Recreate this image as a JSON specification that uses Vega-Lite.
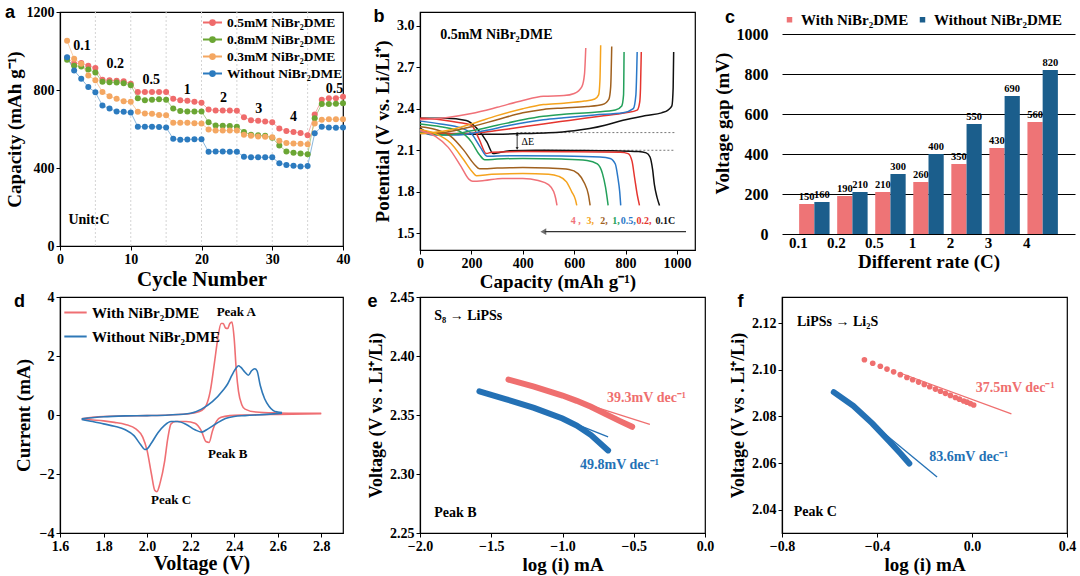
{
"$schema": "https://vega.github.io/schema/vega-lite/v6.json",
"padding": {"left": 4, "top": 3, "right": 0, "bottom": 0},
"config": {
 "font": "Liberation Serif",
 "view": {"stroke": "black", "strokeWidth": 1.2},
 "axis": {"labelFont": "Liberation Serif", "labelFontWeight": "bold", "labelFontSize": 14, "labelColor": "black", "titleFont": "Liberation Serif", "titleFontWeight": "bold", "titleFontSize": 19, "titleColor": "black", "domainColor": "black", "tickColor": "black", "grid": false, "tickSize": 4, "domainWidth": 1.2, "labelPadding": 2, "labelFlush": false},
 "legend": {"labelFont": "Liberation Serif", "labelFontWeight": "bold", "labelColor": "black", "labelFontSize": 14},
 "title": {"font": "Liberation Sans", "fontSize": 18, "fontWeight": "bold", "anchor": "start", "frame": "bounds", "color": "black", "baseline": "bottom"}
},
"datasets": {
 "aGrid": [{"c":5},{"c":10},{"c":15},{"c":20},{"c":25},{"c":30},{"c":35}],
 "aCap": [
  {"s":"p5","c":1,"y":965},{"s":"p5","c":2,"y":935},{"s":"p5","c":3,"y":938},{"s":"p5","c":4,"y":924},{"s":"p5","c":5,"y":913},{"s":"p5","c":6,"y":852},{"s":"p5","c":7,"y":850},{"s":"p5","c":8,"y":848},{"s":"p5","c":9,"y":845},{"s":"p5","c":10,"y":832},
  {"s":"p5","c":11,"y":790},{"s":"p5","c":12,"y":790},{"s":"p5","c":13,"y":790},{"s":"p5","c":14,"y":790},{"s":"p5","c":15,"y":790},{"s":"p5","c":16,"y":755},{"s":"p5","c":17,"y":748},{"s":"p5","c":18,"y":745},{"s":"p5","c":19,"y":740},{"s":"p5","c":20,"y":735},
  {"s":"p5","c":21,"y":700},{"s":"p5","c":22,"y":695},{"s":"p5","c":23,"y":695},{"s":"p5","c":24,"y":695},{"s":"p5","c":25,"y":693},{"s":"p5","c":26,"y":660},{"s":"p5","c":27,"y":645},{"s":"p5","c":28,"y":642},{"s":"p5","c":29,"y":638},{"s":"p5","c":30,"y":635},
  {"s":"p5","c":31,"y":602},{"s":"p5","c":32,"y":590},{"s":"p5","c":33,"y":585},{"s":"p5","c":34,"y":580},{"s":"p5","c":35,"y":568},{"s":"p5","c":36,"y":675},{"s":"p5","c":37,"y":750},{"s":"p5","c":38,"y":758},{"s":"p5","c":39,"y":758},{"s":"p5","c":40,"y":765},
  {"s":"p8","c":1,"y":955},{"s":"p8","c":2,"y":925},{"s":"p8","c":3,"y":920},{"s":"p8","c":4,"y":905},{"s":"p8","c":5,"y":890},{"s":"p8","c":6,"y":842},{"s":"p8","c":7,"y":840},{"s":"p8","c":8,"y":838},{"s":"p8","c":9,"y":835},{"s":"p8","c":10,"y":825},
  {"s":"p8","c":11,"y":758},{"s":"p8","c":12,"y":748},{"s":"p8","c":13,"y":750},{"s":"p8","c":14,"y":752},{"s":"p8","c":15,"y":750},{"s":"p8","c":16,"y":705},{"s":"p8","c":17,"y":692},{"s":"p8","c":18,"y":690},{"s":"p8","c":19,"y":690},{"s":"p8","c":20,"y":690},
  {"s":"p8","c":21,"y":635},{"s":"p8","c":22,"y":618},{"s":"p8","c":23,"y":617},{"s":"p8","c":24,"y":616},{"s":"p8","c":25,"y":612},{"s":"p8","c":26,"y":585},{"s":"p8","c":27,"y":570},{"s":"p8","c":28,"y":568},{"s":"p8","c":29,"y":565},{"s":"p8","c":30,"y":555},
  {"s":"p8","c":31,"y":515},{"s":"p8","c":32,"y":485},{"s":"p8","c":33,"y":478},{"s":"p8","c":34,"y":475},{"s":"p8","c":35,"y":470},{"s":"p8","c":36,"y":655},{"s":"p8","c":37,"y":728},{"s":"p8","c":38,"y":728},{"s":"p8","c":39,"y":730},{"s":"p8","c":40,"y":732},
  {"s":"p3","c":1,"y":1052},{"s":"p3","c":2,"y":960},{"s":"p3","c":3,"y":935},{"s":"p3","c":4,"y":875},{"s":"p3","c":5,"y":850},{"s":"p3","c":6,"y":790},{"s":"p3","c":7,"y":768},{"s":"p3","c":8,"y":755},{"s":"p3","c":9,"y":742},{"s":"p3","c":10,"y":740},
  {"s":"p3","c":11,"y":688},{"s":"p3","c":12,"y":680},{"s":"p3","c":13,"y":678},{"s":"p3","c":14,"y":672},{"s":"p3","c":15,"y":670},{"s":"p3","c":16,"y":632},{"s":"p3","c":17,"y":632},{"s":"p3","c":18,"y":632},{"s":"p3","c":19,"y":630},{"s":"p3","c":20,"y":628},
  {"s":"p3","c":21,"y":598},{"s":"p3","c":22,"y":592},{"s":"p3","c":23,"y":592},{"s":"p3","c":24,"y":592},{"s":"p3","c":25,"y":592},{"s":"p3","c":26,"y":570},{"s":"p3","c":27,"y":565},{"s":"p3","c":28,"y":562},{"s":"p3","c":29,"y":560},{"s":"p3","c":30,"y":558},
  {"s":"p3","c":31,"y":540},{"s":"p3","c":32,"y":528},{"s":"p3","c":33,"y":526},{"s":"p3","c":34,"y":525},{"s":"p3","c":35,"y":522},{"s":"p3","c":36,"y":628},{"s":"p3","c":37,"y":648},{"s":"p3","c":38,"y":650},{"s":"p3","c":39,"y":650},{"s":"p3","c":40,"y":650},
  {"s":"wo","c":1,"y":968},{"s":"wo","c":2,"y":900},{"s":"wo","c":3,"y":858},{"s":"wo","c":4,"y":815},{"s":"wo","c":5,"y":788},{"s":"wo","c":6,"y":720},{"s":"wo","c":7,"y":705},{"s":"wo","c":8,"y":690},{"s":"wo","c":9,"y":688},{"s":"wo","c":10,"y":685},
  {"s":"wo","c":11,"y":612},{"s":"wo","c":12,"y":612},{"s":"wo","c":13,"y":612},{"s":"wo","c":14,"y":610},{"s":"wo","c":15,"y":608},{"s":"wo","c":16,"y":550},{"s":"wo","c":17,"y":545},{"s":"wo","c":18,"y":546},{"s":"wo","c":19,"y":548},{"s":"wo","c":20,"y":548},
  {"s":"wo","c":21,"y":483},{"s":"wo","c":22,"y":485},{"s":"wo","c":23,"y":485},{"s":"wo","c":24,"y":483},{"s":"wo","c":25,"y":483},{"s":"wo","c":26,"y":458},{"s":"wo","c":27,"y":455},{"s":"wo","c":28,"y":455},{"s":"wo","c":29,"y":455},{"s":"wo","c":30,"y":455},
  {"s":"wo","c":31,"y":425},{"s":"wo","c":32,"y":415},{"s":"wo","c":33,"y":412},{"s":"wo","c":34,"y":408},{"s":"wo","c":35,"y":410},{"s":"wo","c":36,"y":578},{"s":"wo","c":37,"y":612},{"s":"wo","c":38,"y":608},{"s":"wo","c":39,"y":606},{"s":"wo","c":40,"y":608}
 ],
 "aText": [
  {"c":3.1,"y":1024,"t":"0.1"},{"c":7.8,"y":932,"t":"0.2"},{"c":12.9,"y":853,"t":"0.5"},{"c":18,"y":802,"t":"1"},{"c":23.1,"y":761,"t":"2"},{"c":28.1,"y":704,"t":"3"},{"c":33,"y":662,"t":"4"},{"c":38.8,"y":805,"t":"0.5"},{"c":4.1,"y":133,"t":"Unit:C"}
 ],
 "bCurves": [
  {"k":"0.1d","r":"0.1","q":0,"v":2.33},{"k":"0.1d","r":"0.1","q":100,"v":2.33},{"k":"0.1d","r":"0.1","q":180,"v":2.315},{"k":"0.1d","r":"0.1","q":220,"v":2.26},{"k":"0.1d","r":"0.1","q":260,"v":2.16},{"k":"0.1d","r":"0.1","q":285,"v":2.075},{"k":"0.1d","r":"0.1","q":300,"v":2.08},{"k":"0.1d","r":"0.1","q":350,"v":2.095},{"k":"0.1d","r":"0.1","q":450,"v":2.1},{"k":"0.1d","r":"0.1","q":600,"v":2.098},{"k":"0.1d","r":"0.1","q":750,"v":2.095},{"k":"0.1d","r":"0.1","q":850,"v":2.09},{"k":"0.1d","r":"0.1","q":880,"v":2.08},{"k":"0.1d","r":"0.1","q":895,"v":2.05},{"k":"0.1d","r":"0.1","q":905,"v":1.96},{"k":"0.1d","r":"0.1","q":912,"v":1.85},{"k":"0.1d","r":"0.1","q":922,"v":1.76},{"k":"0.1d","r":"0.1","q":932,"v":1.7},
  {"k":"0.1c","r":"0.1","q":0,"v":2.26},{"k":"0.1c","r":"0.1","q":30,"v":2.23},{"k":"0.1c","r":"0.1","q":100,"v":2.22},{"k":"0.1c","r":"0.1","q":200,"v":2.215},{"k":"0.1c","r":"0.1","q":300,"v":2.215},{"k":"0.1c","r":"0.1","q":400,"v":2.22},{"k":"0.1c","r":"0.1","q":500,"v":2.225},{"k":"0.1c","r":"0.1","q":600,"v":2.24},{"k":"0.1c","r":"0.1","q":660,"v":2.256},{"k":"0.1c","r":"0.1","q":720,"v":2.28},{"k":"0.1c","r":"0.1","q":790,"v":2.316},{"k":"0.1c","r":"0.1","q":880,"v":2.35},{"k":"0.1c","r":"0.1","q":940,"v":2.37},{"k":"0.1c","r":"0.1","q":965,"v":2.39},{"k":"0.1c","r":"0.1","q":980,"v":2.42},{"k":"0.1c","r":"0.1","q":985,"v":2.55},{"k":"0.1c","r":"0.1","q":987,"v":2.81},
  {"k":"0.2d","r":"0.2","q":0,"v":2.33},{"k":"0.2d","r":"0.2","q":80,"v":2.32},{"k":"0.2d","r":"0.2","q":150,"v":2.3},{"k":"0.2d","r":"0.2","q":200,"v":2.28},{"k":"0.2d","r":"0.2","q":230,"v":2.18},{"k":"0.2d","r":"0.2","q":258,"v":2.075},{"k":"0.2d","r":"0.2","q":280,"v":2.085},{"k":"0.2d","r":"0.2","q":400,"v":2.09},{"k":"0.2d","r":"0.2","q":600,"v":2.088},{"k":"0.2d","r":"0.2","q":780,"v":2.085},{"k":"0.2d","r":"0.2","q":810,"v":2.075},{"k":"0.2d","r":"0.2","q":825,"v":2.02},{"k":"0.2d","r":"0.2","q":835,"v":1.9},{"k":"0.2d","r":"0.2","q":845,"v":1.78},{"k":"0.2d","r":"0.2","q":854,"v":1.7},
  {"k":"0.2c","r":"0.2","q":0,"v":2.25},{"k":"0.2c","r":"0.2","q":50,"v":2.22},{"k":"0.2c","r":"0.2","q":150,"v":2.22},{"k":"0.2c","r":"0.2","q":250,"v":2.23},{"k":"0.2c","r":"0.2","q":350,"v":2.255},{"k":"0.2c","r":"0.2","q":480,"v":2.29},{"k":"0.2c","r":"0.2","q":580,"v":2.315},{"k":"0.2c","r":"0.2","q":700,"v":2.345},{"k":"0.2c","r":"0.2","q":800,"v":2.37},{"k":"0.2c","r":"0.2","q":845,"v":2.39},{"k":"0.2c","r":"0.2","q":855,"v":2.45},{"k":"0.2c","r":"0.2","q":858,"v":2.55},{"k":"0.2c","r":"0.2","q":861,"v":2.81},
  {"k":"0.5d","r":"0.5","q":0,"v":2.31},{"k":"0.5d","r":"0.5","q":80,"v":2.29},{"k":"0.5d","r":"0.5","q":160,"v":2.26},{"k":"0.5d","r":"0.5","q":200,"v":2.22},{"k":"0.5d","r":"0.5","q":235,"v":2.12},{"k":"0.5d","r":"0.5","q":262,"v":2.055},{"k":"0.5d","r":"0.5","q":300,"v":2.058},{"k":"0.5d","r":"0.5","q":400,"v":2.06},{"k":"0.5d","r":"0.5","q":550,"v":2.058},{"k":"0.5d","r":"0.5","q":700,"v":2.05},{"k":"0.5d","r":"0.5","q":740,"v":2.04},{"k":"0.5d","r":"0.5","q":760,"v":2.0},{"k":"0.5d","r":"0.5","q":770,"v":1.9},{"k":"0.5d","r":"0.5","q":777,"v":1.8},{"k":"0.5d","r":"0.5","q":781,"v":1.7},
  {"k":"0.5c","r":"0.5","q":0,"v":2.24},{"k":"0.5c","r":"0.5","q":50,"v":2.21},{"k":"0.5c","r":"0.5","q":150,"v":2.21},{"k":"0.5c","r":"0.5","q":250,"v":2.24},{"k":"0.5c","r":"0.5","q":350,"v":2.28},{"k":"0.5c","r":"0.5","q":480,"v":2.32},{"k":"0.5c","r":"0.5","q":560,"v":2.335},{"k":"0.5c","r":"0.5","q":680,"v":2.355},{"k":"0.5c","r":"0.5","q":790,"v":2.37},{"k":"0.5c","r":"0.5","q":830,"v":2.4},{"k":"0.5c","r":"0.5","q":840,"v":2.5},{"k":"0.5c","r":"0.5","q":845,"v":2.81},
  {"k":"1d","r":"1","q":0,"v":2.29},{"k":"1d","r":"1","q":80,"v":2.27},{"k":"1d","r":"1","q":150,"v":2.24},{"k":"1d","r":"1","q":200,"v":2.16},{"k":"1d","r":"1","q":230,"v":2.07},{"k":"1d","r":"1","q":252,"v":2.03},{"k":"1d","r":"1","q":300,"v":2.035},{"k":"1d","r":"1","q":400,"v":2.04},{"k":"1d","r":"1","q":550,"v":2.035},{"k":"1d","r":"1","q":650,"v":2.025},{"k":"1d","r":"1","q":690,"v":2.0},{"k":"1d","r":"1","q":710,"v":1.93},{"k":"1d","r":"1","q":722,"v":1.83},{"k":"1d","r":"1","q":732,"v":1.7},
  {"k":"1c","r":"1","q":0,"v":2.23},{"k":"1c","r":"1","q":100,"v":2.21},{"k":"1c","r":"1","q":200,"v":2.24},{"k":"1c","r":"1","q":300,"v":2.28},{"k":"1c","r":"1","q":400,"v":2.32},{"k":"1c","r":"1","q":480,"v":2.345},{"k":"1c","r":"1","q":560,"v":2.36},{"k":"1c","r":"1","q":680,"v":2.375},{"k":"1c","r":"1","q":760,"v":2.39},{"k":"1c","r":"1","q":785,"v":2.42},{"k":"1c","r":"1","q":792,"v":2.5},{"k":"1c","r":"1","q":794,"v":2.81},
  {"k":"2d","r":"2","q":0,"v":2.27},{"k":"2d","r":"2","q":60,"v":2.25},{"k":"2d","r":"2","q":120,"v":2.2},{"k":"2d","r":"2","q":170,"v":2.1},{"k":"2d","r":"2","q":210,"v":2.0},{"k":"2d","r":"2","q":232,"v":1.965},{"k":"2d","r":"2","q":300,"v":1.97},{"k":"2d","r":"2","q":400,"v":1.975},{"k":"2d","r":"2","q":500,"v":1.97},{"k":"2d","r":"2","q":580,"v":1.96},{"k":"2d","r":"2","q":615,"v":1.93},{"k":"2d","r":"2","q":640,"v":1.86},{"k":"2d","r":"2","q":655,"v":1.78},{"k":"2d","r":"2","q":662,"v":1.7},
  {"k":"2c","r":"2","q":0,"v":2.22},{"k":"2c","r":"2","q":100,"v":2.23},{"k":"2c","r":"2","q":200,"v":2.27},{"k":"2c","r":"2","q":300,"v":2.32},{"k":"2c","r":"2","q":400,"v":2.37},{"k":"2c","r":"2","q":480,"v":2.395},{"k":"2c","r":"2","q":560,"v":2.405},{"k":"2c","r":"2","q":650,"v":2.415},{"k":"2c","r":"2","q":710,"v":2.43},{"k":"2c","r":"2","q":735,"v":2.47},{"k":"2c","r":"2","q":742,"v":2.56},{"k":"2c","r":"2","q":746,"v":2.85},
  {"k":"3d","r":"3","q":0,"v":2.25},{"k":"3d","r":"3","q":60,"v":2.22},{"k":"3d","r":"3","q":120,"v":2.15},{"k":"3d","r":"3","q":170,"v":2.03},{"k":"3d","r":"3","q":205,"v":1.94},{"k":"3d","r":"3","q":220,"v":1.915},{"k":"3d","r":"3","q":280,"v":1.925},{"k":"3d","r":"3","q":400,"v":1.93},{"k":"3d","r":"3","q":500,"v":1.925},{"k":"3d","r":"3","q":540,"v":1.91},{"k":"3d","r":"3","q":570,"v":1.87},{"k":"3d","r":"3","q":590,"v":1.8},{"k":"3d","r":"3","q":605,"v":1.74},{"k":"3d","r":"3","q":610,"v":1.7},
  {"k":"3c","r":"3","q":0,"v":2.22},{"k":"3c","r":"3","q":100,"v":2.24},{"k":"3c","r":"3","q":200,"v":2.29},{"k":"3c","r":"3","q":300,"v":2.35},{"k":"3c","r":"3","q":400,"v":2.4},{"k":"3c","r":"3","q":480,"v":2.43},{"k":"3c","r":"3","q":560,"v":2.44},{"k":"3c","r":"3","q":640,"v":2.455},{"k":"3c","r":"3","q":680,"v":2.47},{"k":"3c","r":"3","q":695,"v":2.5},{"k":"3c","r":"3","q":700,"v":2.6},{"k":"3c","r":"3","q":703,"v":2.86},
  {"k":"4d","r":"4","q":0,"v":2.24},{"k":"4d","r":"4","q":60,"v":2.2},{"k":"4d","r":"4","q":110,"v":2.12},{"k":"4d","r":"4","q":160,"v":1.98},{"k":"4d","r":"4","q":190,"v":1.89},{"k":"4d","r":"4","q":205,"v":1.875},{"k":"4d","r":"4","q":250,"v":1.88},{"k":"4d","r":"4","q":320,"v":1.895},{"k":"4d","r":"4","q":400,"v":1.895},{"k":"4d","r":"4","q":460,"v":1.88},{"k":"4d","r":"4","q":500,"v":1.85},{"k":"4d","r":"4","q":520,"v":1.8},{"k":"4d","r":"4","q":528,"v":1.75},{"k":"4d","r":"4","q":533,"v":1.7},
  {"k":"4c","r":"4","q":0,"v":2.32},{"k":"4c","r":"4","q":100,"v":2.335},{"k":"4c","r":"4","q":200,"v":2.365},{"k":"4c","r":"4","q":300,"v":2.41},{"k":"4c","r":"4","q":400,"v":2.46},{"k":"4c","r":"4","q":480,"v":2.49},{"k":"4c","r":"4","q":560,"v":2.495},{"k":"4c","r":"4","q":600,"v":2.51},{"k":"4c","r":"4","q":630,"v":2.56},{"k":"4c","r":"4","q":640,"v":2.65},{"k":"4c","r":"4","q":645,"v":2.84}
 ],
 "bDot": [{"q":375,"q2":990,"v":2.227},{"q":480,"q2":990,"v":2.099}],
 "bDE": [{"q":378,"v":2.107,"v2":2.22}],
 "bTri": [{"q":378,"v":2.214,"sh":"u"},{"q":378,"v":2.113,"sh":"d"}],
 "bDEt": [{"q":395,"v":2.16,"t":"ΔE"}],
 "bTitle": [{"q":297,"v":2.93,"t":"0.5mM NiBr₂DME"}],
 "bRate": [{"q":606,"v":1.585,"t":"4 ,","r":"4"},{"q":662,"v":1.585,"t":"3,","r":"3"},{"q":716,"v":1.585,"t":"2,","r":"2"},{"q":763,"v":1.585,"t":"1,","r":"1"},{"q":810,"v":1.585,"t":"0.5,","r":"0.5"},{"q":872,"v":1.585,"t":"0.2,","r":"0.2"},{"q":955,"v":1.585,"t":"0.1C","r":"0.1"}],
 "bArrow": [{"q":485,"q2":1035,"v":1.51}],
 "bHead": [{"q":480,"v":1.51}],
 "cBars": [
  {"rate":"0.1","g":"w","v":150},{"rate":"0.1","g":"wo","v":160},
  {"rate":"0.2","g":"w","v":190},{"rate":"0.2","g":"wo","v":210},
  {"rate":"0.5","g":"w","v":210},{"rate":"0.5","g":"wo","v":300},
  {"rate":"1","g":"w","v":260},{"rate":"1","g":"wo","v":400},
  {"rate":"2","g":"w","v":350},{"rate":"2","g":"wo","v":550},
  {"rate":"3","g":"w","v":430},{"rate":"3","g":"wo","v":690},
  {"rate":"4","g":"w","v":560},{"rate":"4","g":"wo","v":820}
 ],
 "dCV": [
  {"s":"w","k":"wa","x":1.7,"y":-0.13},{"s":"w","k":"wa","x":1.75,"y":-0.08},{"s":"w","k":"wa","x":1.8,"y":-0.05},{"s":"w","k":"wa","x":1.9,"y":-0.03},{"s":"w","k":"wa","x":2.0,"y":-0.02},{"s":"w","k":"wa","x":2.1,"y":0.0},{"s":"w","k":"wa","x":2.2,"y":0.05},{"s":"w","k":"wa","x":2.25,"y":0.15},{"s":"w","k":"wa","x":2.27,"y":0.3},{"s":"w","k":"wa","x":2.29,"y":0.8},{"s":"w","k":"wa","x":2.31,"y":1.8},{"s":"w","k":"wa","x":2.325,"y":2.6},{"s":"w","k":"wa","x":2.34,"y":3.1},{"s":"w","k":"wa","x":2.35,"y":3.1},{"s":"w","k":"wa","x":2.36,"y":2.95},{"s":"w","k":"wa","x":2.37,"y":2.93},{"s":"w","k":"wa","x":2.38,"y":3.1},{"s":"w","k":"wa","x":2.39,"y":3.15},{"s":"w","k":"wa","x":2.4,"y":2.6},{"s":"w","k":"wa","x":2.41,"y":1.5},{"s":"w","k":"wa","x":2.42,"y":0.8},{"s":"w","k":"wa","x":2.435,"y":0.35},{"s":"w","k":"wa","x":2.45,"y":0.2},{"s":"w","k":"wa","x":2.5,"y":0.1},{"s":"w","k":"wa","x":2.6,"y":0.07},{"s":"w","k":"wa","x":2.7,"y":0.06},{"s":"w","k":"wa","x":2.8,"y":0.06},
  {"s":"w","k":"wc","x":2.8,"y":0.04},{"s":"w","k":"wc","x":2.6,"y":0.02},{"s":"w","k":"wc","x":2.45,"y":0.0},{"s":"w","k":"wc","x":2.38,"y":-0.02},{"s":"w","k":"wc","x":2.34,"y":-0.08},{"s":"w","k":"wc","x":2.32,"y":-0.2},{"s":"w","k":"wc","x":2.3,"y":-0.55},{"s":"w","k":"wc","x":2.285,"y":-0.93},{"s":"w","k":"wc","x":2.27,"y":-0.9},{"s":"w","k":"wc","x":2.25,"y":-0.55},{"s":"w","k":"wc","x":2.22,"y":-0.28},{"s":"w","k":"wc","x":2.18,"y":-0.22},{"s":"w","k":"wc","x":2.13,"y":-0.22},{"s":"w","k":"wc","x":2.11,"y":-0.3},{"s":"w","k":"wc","x":2.095,"y":-0.8},{"s":"w","k":"wc","x":2.08,"y":-1.6},{"s":"w","k":"wc","x":2.06,"y":-2.3},{"s":"w","k":"wc","x":2.045,"y":-2.6},{"s":"w","k":"wc","x":2.035,"y":-2.55},{"s":"w","k":"wc","x":2.02,"y":-2.0},{"s":"w","k":"wc","x":2.0,"y":-1.2},{"s":"w","k":"wc","x":1.98,"y":-0.75},{"s":"w","k":"wc","x":1.95,"y":-0.48},{"s":"w","k":"wc","x":1.9,"y":-0.32},{"s":"w","k":"wc","x":1.85,"y":-0.25},{"s":"w","k":"wc","x":1.8,"y":-0.2},{"s":"w","k":"wc","x":1.75,"y":-0.17},{"s":"w","k":"wc","x":1.7,"y":-0.14},
  {"s":"wo","k":"oa","x":1.7,"y":-0.13},{"s":"wo","k":"oa","x":1.8,"y":-0.06},{"s":"wo","k":"oa","x":1.9,"y":-0.03},{"s":"wo","k":"oa","x":2.0,"y":-0.02},{"s":"wo","k":"oa","x":2.1,"y":0.0},{"s":"wo","k":"oa","x":2.2,"y":0.06},{"s":"wo","k":"oa","x":2.25,"y":0.2},{"s":"wo","k":"oa","x":2.3,"y":0.45},{"s":"wo","k":"oa","x":2.35,"y":0.85},{"s":"wo","k":"oa","x":2.37,"y":1.05},{"s":"wo","k":"oa","x":2.39,"y":1.35},{"s":"wo","k":"oa","x":2.41,"y":1.6},{"s":"wo","k":"oa","x":2.42,"y":1.67},{"s":"wo","k":"oa","x":2.43,"y":1.62},{"s":"wo","k":"oa","x":2.45,"y":1.45},{"s":"wo","k":"oa","x":2.465,"y":1.35},{"s":"wo","k":"oa","x":2.48,"y":1.5},{"s":"wo","k":"oa","x":2.495,"y":1.57},{"s":"wo","k":"oa","x":2.505,"y":1.5},{"s":"wo","k":"oa","x":2.52,"y":1.0},{"s":"wo","k":"oa","x":2.54,"y":0.55},{"s":"wo","k":"oa","x":2.56,"y":0.3},{"s":"wo","k":"oa","x":2.58,"y":0.15},{"s":"wo","k":"oa","x":2.6,"y":0.1},{"s":"wo","k":"oa","x":2.62,"y":0.08},
  {"s":"wo","k":"oc","x":2.62,"y":0.06},{"s":"wo","k":"oc","x":2.55,"y":0.02},{"s":"wo","k":"oc","x":2.45,"y":-0.02},{"s":"wo","k":"oc","x":2.4,"y":-0.05},{"s":"wo","k":"oc","x":2.36,"y":-0.12},{"s":"wo","k":"oc","x":2.32,"y":-0.28},{"s":"wo","k":"oc","x":2.28,"y":-0.47},{"s":"wo","k":"oc","x":2.25,"y":-0.58},{"s":"wo","k":"oc","x":2.22,"y":-0.5},{"s":"wo","k":"oc","x":2.18,"y":-0.32},{"s":"wo","k":"oc","x":2.14,"y":-0.22},{"s":"wo","k":"oc","x":2.11,"y":-0.22},{"s":"wo","k":"oc","x":2.08,"y":-0.35},{"s":"wo","k":"oc","x":2.05,"y":-0.6},{"s":"wo","k":"oc","x":2.02,"y":-0.95},{"s":"wo","k":"oc","x":2.0,"y":-1.15},{"s":"wo","k":"oc","x":1.99,"y":-1.17},{"s":"wo","k":"oc","x":1.97,"y":-1.0},{"s":"wo","k":"oc","x":1.94,"y":-0.7},{"s":"wo","k":"oc","x":1.9,"y":-0.5},{"s":"wo","k":"oc","x":1.85,"y":-0.38},{"s":"wo","k":"oc","x":1.8,"y":-0.3},{"s":"wo","k":"oc","x":1.75,"y":-0.22},{"s":"wo","k":"oc","x":1.7,"y":-0.15}
 ],
 "dText": [{"x":2.41,"y":3.48,"t":"Peak A"},{"x":2.37,"y":-1.31,"t":"Peak B"},{"x":2.11,"y":-2.89,"t":"Peak C"}],
 "eD": [
  {"s":"w","x":-1.379,"y":2.38},{"s":"w","x":-1.2,"y":2.374},{"s":"w","x":-1.0,"y":2.3665},{"s":"w","x":-0.9,"y":2.362},{"s":"w","x":-0.8,"y":2.357},{"s":"w","x":-0.7,"y":2.351},{"s":"w","x":-0.6,"y":2.345},{"s":"w","x":-0.511,"y":2.34},
  {"s":"wo","x":-1.583,"y":2.37},{"s":"wo","x":-1.4,"y":2.3635},{"s":"wo","x":-1.2,"y":2.356},{"s":"wo","x":-1.0,"y":2.347},{"s":"wo","x":-0.9,"y":2.341},{"s":"wo","x":-0.8,"y":2.333},{"s":"wo","x":-0.68,"y":2.32}
 ],
 "eF": [{"s":"w","x":-1.0,"y":2.3655},{"s":"w","x":-0.387,"y":2.342},{"s":"wo","x":-1.2,"y":2.3565},{"s":"wo","x":-0.68,"y":2.3315}],
 "eT": [{"s":"w","x":-0.41,"y":2.3646,"t":"39.3mV dec⁻¹"},{"s":"wo","x":-0.6,"y":2.308,"t":"49.8mV dec⁻¹"}],
 "eB": [{"x":-1.9,"y":2.434,"t":"S₈ → LiPSs"},{"x":-1.9,"y":2.267,"t":"Peak B"}],
 "fR": [
  {"s":"w","x":-0.453,"y":2.1043},{"s":"w","x":-0.418,"y":2.1028},{"s":"w","x":-0.386,"y":2.1015},{"s":"w","x":-0.358,"y":2.1003},{"s":"w","x":-0.33,"y":2.0991},{"s":"w","x":-0.302,"y":2.0979},{"s":"w","x":-0.274,"y":2.0967},{"s":"w","x":-0.25,"y":2.0957},{"s":"w","x":-0.225,"y":2.0947},{"s":"w","x":-0.201,"y":2.0937},{"s":"w","x":-0.178,"y":2.0927},{"s":"w","x":-0.154,"y":2.0917},{"s":"w","x":-0.133,"y":2.0908},{"s":"w","x":-0.112,"y":2.0899},{"s":"w","x":-0.091,"y":2.089},{"s":"w","x":-0.07,"y":2.0881},{"s":"w","x":-0.053,"y":2.0874},{"s":"w","x":-0.035,"y":2.0866},{"s":"w","x":-0.021,"y":2.0861},{"s":"w","x":-0.007,"y":2.0855},{"s":"w","x":0.007,"y":2.0849}
 ],
 "fB": [{"s":"wo","x":-0.582,"y":2.0904},{"s":"wo","x":-0.5,"y":2.0845},{"s":"wo","x":-0.42,"y":2.077},{"s":"wo","x":-0.35,"y":2.0695},{"s":"wo","x":-0.3,"y":2.064},{"s":"wo","x":-0.264,"y":2.0598}],
 "fF": [{"s":"w","x":-0.3,"y":2.0985},{"s":"w","x":0.166,"y":2.0811},{"s":"wo","x":-0.42,"y":2.077},{"s":"wo","x":-0.147,"y":2.054}],
 "fT": [{"s":"w","x":0.182,"y":2.0921,"t":"37.5mV dec⁻¹"},{"s":"wo","x":-0.014,"y":2.0626,"t":"83.6mV dec⁻¹"}],
 "fK": [{"x":-0.737,"y":2.1203,"t":"LiPSs → Li₂S"},{"x":-0.751,"y":2.0391,"t":"Peak C"}]
},
"columns": 3,
"spacing": {"row": 47, "column": 77},
"bounds": "flush",
"resolve": {"scale": {"color": "independent"}, "legend": {"color": "independent"}},
"concat": [
 {"title": {"text": "a", "offset": -15, "dy": 2},
  "width": 283, "height": 234,
  "layer": [
   {"data": {"name": "aGrid"}, "mark": {"type": "rule", "color": "#d4d4d4", "strokeDash": [2, 2], "strokeWidth": 1},
    "encoding": {"x": {"field": "c", "type": "quantitative", "scale": {"domain": [0, 40]}, "axis": {"title": "Cycle Number", "values": [0, 10, 20, 30, 40], "titleFontSize": 21, "titlePadding": 2}}}},
   {"data": {"name": "aCap"}, "mark": {"type": "line", "strokeWidth": 1, "strokeOpacity": 0.55, "point": {"filled": true, "size": 36, "opacity": 1}},
    "encoding": {
     "x": {"field": "c", "type": "quantitative"},
     "y": {"field": "y", "type": "quantitative", "scale": {"domain": [0, 1200]}, "axis": {"title": "Capacity (mAh g⁻¹)", "values": [0, 200, 400, 600, 800, 1000, 1200], "format": "d", "titlePadding": 2}},
     "color": {"field": "s", "type": "nominal", "scale": {"domain": ["p5", "p8", "p3", "wo"], "range": ["#EF6B6B", "#6BA634", "#F4A762", "#2C7BBF"]},
      "legend": {"title": null, "orient": "top-right", "offset": 0, "labelExpr": "{'p5':'0.5mM NiBr₂DME','p8':'0.8mM NiBr₂DME','p3':'0.3mM NiBr₂DME','wo':'Without NiBr₂DME'}[datum.value]", "symbolType": "M-1,0L1,0M0.25,0A0.25,0.25,0,1,1,-0.25,0A0.25,0.25,0,1,1,0.25,0", "symbolSize": 361, "symbolStrokeWidth": 2, "labelFontSize": 13.5, "rowPadding": 0, "labelOffset": 4}}}},
   {"data": {"name": "aText"}, "mark": {"type": "text", "font": "Liberation Serif", "fontWeight": "bold", "fontSize": 14, "color": "black"},
    "encoding": {"x": {"field": "c", "type": "quantitative"}, "y": {"field": "y", "type": "quantitative"}, "text": {"field": "t"}}}
  ]},
 {"title": {"text": "b", "offset": -10, "dy": 4},
  "width": 275, "height": 238,
  "layer": [
   {"data": {"name": "bDot"}, "mark": {"type": "rule", "color": "#555555", "strokeDash": [2, 2], "strokeWidth": 0.8},
    "encoding": {"x": {"field": "q", "type": "quantitative", "scale": {"domain": [0, 1070], "nice": false}, "axis": {"title": "Capacity (mAh g⁻¹)", "values": [0, 200, 400, 600, 800, 1000], "format": "d", "titlePadding": 2}}, "x2": {"field": "q2"},
     "y": {"field": "v", "type": "quantitative", "scale": {"domain": [1.377, 3.1], "nice": false, "zero": false}, "axis": {"title": "Potential (V vs. Li/Li⁺)", "values": [1.5, 1.8, 2.1, 2.4, 2.7, 3.0], "format": ".1f", "titlePadding": 4}}}},
   {"data": {"name": "bCurves"}, "mark": {"type": "line", "strokeWidth": 1.5, "interpolate": "monotone"},
    "encoding": {"x": {"field": "q", "type": "quantitative"}, "y": {"field": "v", "type": "quantitative"}, "detail": {"field": "k"},
     "color": {"field": "r", "type": "nominal", "scale": {"domain": ["4", "3", "2", "1", "0.5", "0.2", "0.1"], "range": ["#F07178", "#F5A31D", "#A0601E", "#23A05A", "#2A78C8", "#E5352F", "#111111"]}, "legend": null}}},
   {"data": {"name": "bDE"}, "mark": {"type": "rule", "color": "black", "strokeWidth": 0.8},
    "encoding": {"x": {"field": "q", "type": "quantitative"}, "y": {"field": "v", "type": "quantitative"}, "y2": {"field": "v2"}}},
   {"data": {"name": "bTri"}, "mark": {"type": "point", "filled": true, "color": "black", "size": 10},
    "encoding": {"x": {"field": "q", "type": "quantitative"}, "y": {"field": "v", "type": "quantitative"},
     "shape": {"field": "sh", "type": "nominal", "scale": {"domain": ["u", "d"], "range": ["triangle-up", "triangle-down"]}, "legend": null}}},
   {"data": {"name": "bDEt"}, "mark": {"type": "text", "font": "Liberation Serif", "fontSize": 10, "align": "left", "color": "black"},
    "encoding": {"x": {"field": "q", "type": "quantitative"}, "y": {"field": "v", "type": "quantitative"}, "text": {"field": "t"}}},
   {"data": {"name": "bTitle"}, "mark": {"type": "text", "font": "Liberation Serif", "fontSize": 14, "fontWeight": "bold", "color": "black"},
    "encoding": {"x": {"field": "q", "type": "quantitative"}, "y": {"field": "v", "type": "quantitative"}, "text": {"field": "t"}}},
   {"data": {"name": "bRate"}, "mark": {"type": "text", "font": "Liberation Serif", "fontWeight": "bold", "fontSize": 10},
    "encoding": {"x": {"field": "q", "type": "quantitative"}, "y": {"field": "v", "type": "quantitative"}, "text": {"field": "t"},
     "color": {"field": "r", "type": "nominal", "legend": null}}},
   {"data": {"name": "bArrow"}, "mark": {"type": "rule", "color": "#333333", "strokeWidth": 1.2},
    "encoding": {"x": {"field": "q", "type": "quantitative"}, "x2": {"field": "q2"}, "y": {"field": "v", "type": "quantitative"}}},
   {"data": {"name": "bHead"}, "mark": {"type": "point", "shape": "triangle-left", "filled": true, "color": "#333333", "size": 45},
    "encoding": {"x": {"field": "q", "type": "quantitative"}, "y": {"field": "v", "type": "quantitative"}}}
  ]},
 {"title": {"text": "c", "offset": -10, "dx": 12, "dy": 5},
  "width": 293, "height": 222,
  "view": {"stroke": null},
  "data": {"name": "cBars"},
  "encoding": {
   "x": {"field": "rate", "type": "nominal", "sort": ["0.1", "0.2", "0.5", "1", "2", "3", "4"], "scale": {"paddingInner": 0.2, "paddingOuter": 0.45},
    "axis": {"title": "Different rate (C)", "labelAngle": 0, "domain": false, "ticks": false, "labelOffset": -16, "labelFontSize": 15, "labelPadding": 1, "titlePadding": 2}},
   "xOffset": {"field": "g", "type": "nominal", "sort": ["w", "wo"]},
   "y": {"field": "v", "type": "quantitative", "scale": {"domain": [0, 1110], "nice": false},
    "axis": {"title": "Voltage gap (mV)", "values": [0, 200, 400, 600, 800, 1000], "format": "d", "grid": true, "gridColor": "black", "gridWidth": 1, "domain": false, "ticks": false, "labelPadding": 14, "labelFontSize": 16, "titlePadding": 4}}
  },
  "layer": [
   {"mark": {"type": "bar"},
    "encoding": {"color": {"field": "g", "type": "nominal", "scale": {"domain": ["w", "wo"], "range": ["#EE7476", "#1B5E8C"]},
     "legend": {"title": null, "orient": "top-left", "offset": 0, "direction": "horizontal", "symbolType": "square", "symbolSize": 30, "labelFontSize": 15, "columnPadding": 6, "labelExpr": "datum.value == 'w' ? 'With NiBr₂DME' : 'Without NiBr₂DME'"}}}},
   {"mark": {"type": "text", "dy": -7, "font": "Liberation Serif", "fontWeight": "bold", "fontSize": 10.5, "color": "black"},
    "encoding": {"text": {"field": "v", "type": "quantitative"}}}
  ]},
 {"title": {"text": "d", "offset": -21},
  "width": 283, "height": 236,
  "layer": [
   {"data": {"name": "dCV"}, "mark": {"type": "line", "strokeWidth": 1.6, "interpolate": "monotone"},
    "encoding": {
     "x": {"field": "x", "type": "quantitative", "scale": {"domain": [1.6, 2.9], "nice": false, "zero": false}, "axis": {"title": "Voltage (V)", "values": [1.6, 1.8, 2.0, 2.2, 2.4, 2.6, 2.8], "format": ".1f", "titleFontSize": 20, "titlePadding": 0}},
     "y": {"field": "y", "type": "quantitative", "scale": {"domain": [-4, 4]}, "axis": {"title": "Current (mA)", "values": [-4, -2, 0, 2, 4], "titlePadding": 6}},
     "detail": {"field": "k"},
     "color": {"field": "s", "type": "nominal", "scale": {"domain": ["w", "wo"], "range": ["#EF6F73", "#2F78B7"]},
      "legend": {"title": null, "orient": "top-left", "offset": 3, "symbolType": "stroke", "symbolSize": 500, "symbolStrokeWidth": 2, "labelFontSize": 15, "rowPadding": 3, "labelExpr": "datum.value == 'w' ? 'With NiBr₂DME' : 'Without NiBr₂DME'"}}}},
   {"data": {"name": "dText"}, "mark": {"type": "text", "font": "Liberation Serif", "fontWeight": "bold", "fontSize": 13, "color": "black"},
    "encoding": {"x": {"field": "x", "type": "quantitative"}, "y": {"field": "y", "type": "quantitative"}, "text": {"field": "t"}}}
  ]},
 {"title": {"text": "e", "offset": -21},
  "width": 285, "height": 236,
  "layer": [
   {"data": {"name": "eD"}, "mark": {"type": "line", "strokeWidth": 6, "strokeCap": "round"},
    "encoding": {
     "x": {"field": "x", "type": "quantitative", "scale": {"domain": [-2, 0], "nice": false}, "axis": {"title": "log (i) mA", "values": [-2, -1.5, -1, -0.5, 0], "format": ".1f", "titlePadding": 2}},
     "y": {"field": "y", "type": "quantitative", "scale": {"domain": [2.25, 2.45], "nice": false, "zero": false}, "axis": {"title": "Voltage (V vs . Li⁺/Li)", "values": [2.25, 2.3, 2.35, 2.4, 2.45], "format": ".2f", "titleFontSize": 18, "titlePadding": 4}},
     "color": {"field": "s", "type": "nominal", "scale": {"domain": ["w", "wo"], "range": ["#EF6F6F", "#2471B5"]}, "legend": null}}},
   {"data": {"name": "eF"}, "mark": {"type": "line", "strokeWidth": 1.3},
    "encoding": {"x": {"field": "x", "type": "quantitative"}, "y": {"field": "y", "type": "quantitative"}, "color": {"field": "s", "type": "nominal", "legend": null}}},
   {"data": {"name": "eT"}, "mark": {"type": "text", "font": "Liberation Serif", "fontWeight": "bold", "fontSize": 14},
    "encoding": {"x": {"field": "x", "type": "quantitative"}, "y": {"field": "y", "type": "quantitative"}, "text": {"field": "t"}, "color": {"field": "s", "type": "nominal", "legend": null}}},
   {"data": {"name": "eB"}, "mark": {"type": "text", "font": "Liberation Serif", "fontWeight": "bold", "fontSize": 14, "align": "left", "color": "black"},
    "encoding": {"x": {"field": "x", "type": "quantitative"}, "y": {"field": "y", "type": "quantitative"}, "text": {"field": "t"}}}
  ]},
 {"title": {"text": "f", "offset": -14, "dx": 8},
  "width": 285, "height": 236,
  "layer": [
   {"data": {"name": "fB"}, "mark": {"type": "line", "strokeWidth": 6, "strokeCap": "round"},
    "encoding": {
     "x": {"field": "x", "type": "quantitative", "scale": {"domain": [-0.8, 0.4], "nice": false}, "axis": {"title": "log (i) mA", "values": [-0.8, -0.4, 0, 0.4], "format": ".1f", "titlePadding": 2}},
     "y": {"field": "y", "type": "quantitative", "scale": {"domain": [2.03, 2.1312], "nice": false, "zero": false}, "axis": {"title": "Voltage (V vs . Li⁺/Li)", "values": [2.04, 2.06, 2.08, 2.1, 2.12], "format": ".2f", "titleFontSize": 18, "titlePadding": 4}},
     "color": {"field": "s", "type": "nominal", "scale": {"domain": ["w", "wo"], "range": ["#EF6F6F", "#2471B5"]}, "legend": null}}},
   {"data": {"name": "fF"}, "mark": {"type": "line", "strokeWidth": 1.3},
    "encoding": {"x": {"field": "x", "type": "quantitative"}, "y": {"field": "y", "type": "quantitative"}, "detail": {"field": "s"}, "color": {"field": "s", "type": "nominal", "legend": null}}},
   {"data": {"name": "fR"}, "mark": {"type": "point", "filled": true, "size": 32, "opacity": 1},
    "encoding": {"x": {"field": "x", "type": "quantitative"}, "y": {"field": "y", "type": "quantitative"}, "color": {"field": "s", "type": "nominal", "legend": null}}},
   {"data": {"name": "fT"}, "mark": {"type": "text", "font": "Liberation Serif", "fontWeight": "bold", "fontSize": 14},
    "encoding": {"x": {"field": "x", "type": "quantitative"}, "y": {"field": "y", "type": "quantitative"}, "text": {"field": "t"}, "color": {"field": "s", "type": "nominal", "legend": null}}},
   {"data": {"name": "fK"}, "mark": {"type": "text", "font": "Liberation Serif", "fontWeight": "bold", "fontSize": 14, "align": "left", "color": "black"},
    "encoding": {"x": {"field": "x", "type": "quantitative"}, "y": {"field": "y", "type": "quantitative"}, "text": {"field": "t"}}}
  ]}
]
}
